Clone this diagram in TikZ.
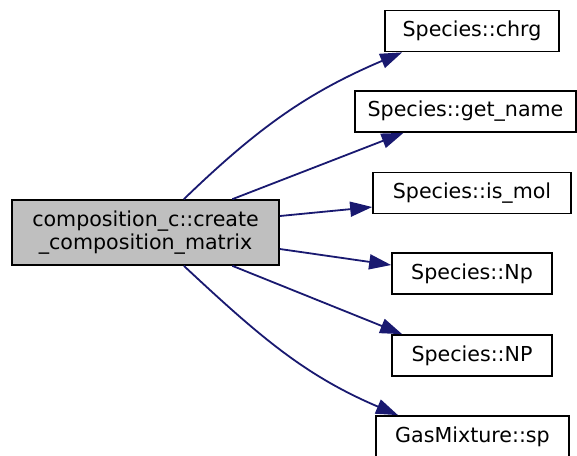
\documentclass[tikz,border=0pt]{standalone}
\usepackage{fontspec}
\setmainfont{DejaVu Sans}
\usepackage{tikz}
\usetikzlibrary{positioning}
\usetikzlibrary{arrows.meta}
\definecolor{callblue}{HTML}{191970}
\definecolor{maingray}{HTML}{BFBFBF}
\tikzset{fn node/.style={rectangle,draw=black,fill=white,line width=0.85pt,inner sep=0pt,minimum height=20.5pt,font=\fontsize{10.3}{11.5}\selectfont},
  main node/.style={fn node,fill=maingray,minimum width=133.5pt,minimum height=32.5pt,align=center},
  call/.style={draw=callblue,line width=0.9pt},}

\begin{document}
\begin{tikzpicture}[->, >={Triangle[length=11pt,width=7.5pt]}, x=0.5pt, y=-0.5pt]
	\clip (0,0) rectangle (577,455);
	\node[main node] (main) at (145.5,232.5) {composition\_c::create\\\_composition\_matrix};
	\node[fn node, minimum width=87pt] (chrg) at (472,31) {Species::chrg};
	\node[fn node, minimum width=110.5pt] (getname) at (465.5,111.5) {Species::get\_name};
	\node[fn node, minimum width=99pt] (ismol) at (472,193) {Species::is\_mol};
	\node[fn node, minimum width=80pt] (Np) at (472,273.5) {Species::Np};
	\node[fn node, minimum width=80pt] (NP) at (472,355.5) {Species::NP};
	\node[fn node, minimum width=96.5pt] (sp) at (472.5,436.5) {GasMixture::sp};

	\path
	(main.41) edge[call,out=44,in=203] (chrg.197)
	(main.21) edge[call] (getname.199)
	(main.7) edge[call] (ismol.188)
	(main.-7) edge[call] (Np.174)
	(main.-21) edge[call] (NP.163)
	(main.-41) edge[call,out=-43,in=157] (sp.164);
\end{tikzpicture}
\end{document}
